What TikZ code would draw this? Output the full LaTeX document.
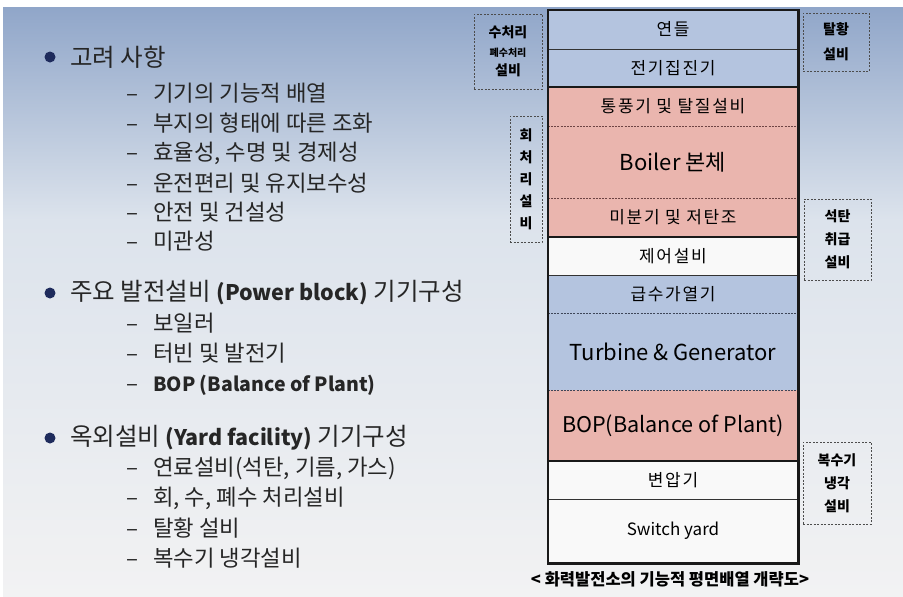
\documentclass[tikz,border=0pt]{standalone}
\usepackage{fontspec}
\setmainfont{Noto Sans CJK KR}
\newfontfamily\boxfont[LetterSpace=10]{Noto Sans CJK KR}
\definecolor{bluef}{HTML}{B4C4DF}
\definecolor{pinkf}{HTML}{EAB5AE}
\definecolor{whitef}{HTML}{F9F9F9}
\definecolor{txt}{HTML}{262626}
\definecolor{navy}{HTML}{1E2B5C}
\definecolor{bgtop}{HTML}{90A6C9}
\definecolor{bgmid}{HTML}{DCE3EC}
\definecolor{bgbot}{HTML}{F2F2F3}
\definecolor{dashred}{HTML}{6E4444}
\definecolor{dashblue}{HTML}{3E4658}
\begin{document}
\begin{tikzpicture}[x=1pt,y=-1pt,
  row/.style={rectangle, minimum width=250pt, inner sep=0pt, text=black, font=\boxfont\fontsize{17}{19}\selectfont},
  sidebox/.style={rectangle, draw=black!70, dash pattern=on 2pt off 1.5pt, line width=1pt, inner sep=0pt, align=center, text=black, font=\fontsize{14}{22}\selectfont\bfseries},
  headtxt/.style={anchor=west, inner sep=0pt, text=txt, font=\fontsize{24.5}{27}\selectfont},
  itemtxt/.style={anchor=west, inner sep=0pt, text=txt, font=\fontsize{22.3}{25}\selectfont},
  bul/.style={circle, fill=navy, inner sep=0pt, minimum size=11pt},
  sepline/.style={line width=1.3pt, draw=black!80},
  septhick/.style={line width=2.2pt, draw=black!90},
  sepdash/.style={line width=1pt, dash pattern=on 2pt off 1.2pt}
]
\useasboundingbox (0,0) rectangle (903,597);
% background
\fill[white] (0,0) rectangle (903,597);
\shade[top color=bgtop, bottom color=bgmid] (3,7) rectangle (903,220);
\shade[top color=bgmid, bottom color=bgbot] (3,220) rectangle (903,597);

% main column rows
\node[row, fill=bluef, minimum height=39pt] (yd) at (673,29.5) {연들};
\node[row, fill=bluef, minimum height=38pt] (jj) at (673,68) {전기집진기};
\node[row, fill=pinkf, minimum height=39pt] (tp) at (673,106.5) {통풍기 및 탈질설비};
\node[row, fill=pinkf, minimum height=72pt, font=\fontsize{22}{24}\selectfont] (bo) at (673,162) {Boiler 본체};
\node[row, fill=pinkf, minimum height=39pt] (mb) at (673,217.5) {미분기 및 저탄조};
\node[row, fill=whitef, minimum height=38pt] (je) at (673,256) {제어설비};
\node[row, fill=bluef, minimum height=38pt] (gs) at (673,294) {급수가열기};
\node[row, fill=bluef, minimum height=77pt, font=\fontsize{22}{24}\selectfont] (tg) at (673,351.5) {Turbine \& Generator};
\node[row, fill=pinkf, minimum height=71pt, font=\fontsize{21.6}{24}\selectfont] (bop) at (673,425.5) {BOP(Balance of Plant)};
\node[row, fill=whitef, minimum height=38pt] (bya) at (673,480) {변압기};
\node[row, fill=whitef, minimum height=64pt, font=\fontsize{17}{20}\selectfont] (sw) at (673,531) {Switch yard};

% separators
\draw[sepline] (yd.south west) -- (yd.south east);
\draw[septhick] (jj.south west) -- (jj.south east);
\draw[sepdash, draw=dashred] (tp.south west) -- (tp.south east);
\draw[sepdash, draw=dashred] (bo.south west) -- (bo.south east);
\draw[septhick] (mb.south west) -- (mb.south east);
\draw[sepline] (je.south west) -- (je.south east);
\draw[sepdash, draw=dashblue] (gs.south west) -- (gs.south east);
\draw[sepdash, draw=dashblue] (tg.south west) -- (tg.south east);
\draw[septhick] (bop.south west) -- (bop.south east);
\draw[sepline] (bya.south west) -- (bya.south east);
\draw[line width=2.6pt, draw=black!90] (yd.north west) rectangle (sw.south east);

% side dashed boxes
\node[sidebox, minimum width=68pt, minimum height=75pt] (sc) at (508,51.5)
  {수처리\\[-3pt]{\fontsize{10}{12}\selectfont 폐수처리}\\[-3pt]설비};
\node[sidebox, minimum width=32pt, minimum height=126pt] (hc) at (526,179)
  {회\\처\\리\\설\\비};
\node[sidebox, minimum width=66pt, minimum height=58pt, font=\fontsize{14}{25}\selectfont\bfseries] (th) at (836,42)
  {탈황\\설비};
\node[sidebox, minimum width=67pt, minimum height=81pt, font=\fontsize{14}{23}\selectfont\bfseries] (st) at (837.5,239.5)
  {석탄\\취급\\설비};
\node[sidebox, minimum width=68pt, minimum height=82pt, font=\fontsize{14}{23}\selectfont\bfseries] (bs) at (837,483)
  {복수기\\냉각\\설비};

% caption
\node[inner sep=0pt, font=\fontsize{16.5}{18}\selectfont\bfseries, text=black] (cap) at (670,579)
  {< 화력발전소의 기능적 평면배열 개략도>};

% left text
\node[bul] (b1) at (50,57) {};
\node[headtxt] (h1) at (70,57) {고려 사항};
\node[itemtxt] (i1) at (126,93) {\makebox[27pt][l]{–}기기의 기능적 배열};
\node[itemtxt] (i2) at (126,123) {\makebox[27pt][l]{–}부지의 형태에 따른 조화};
\node[itemtxt] (i3) at (126,153) {\makebox[27pt][l]{–}효율성, 수명 및 경제성};
\node[itemtxt] (i4) at (126,183) {\makebox[27pt][l]{–}운전편리 및 유지보수성};
\node[itemtxt] (i5) at (126,212) {\makebox[27pt][l]{–}안전 및 건설성};
\node[itemtxt] (i6) at (126,241) {\makebox[27pt][l]{–}미관성};

\node[bul] (b2) at (50,293) {};
\node[headtxt] (h2) at (70,293) {주요 발전설비 {\fontsize{21.5}{24}\selectfont\bfseries (Power block)} 기기구성};
\node[itemtxt] (i7) at (126,323) {\makebox[27pt][l]{–}보일러};
\node[itemtxt] (i8) at (126,353) {\makebox[27pt][l]{–}터빈 및 발전기};
\node[itemtxt] (i9) at (126,385) {\makebox[27pt][l]{–}{\fontsize{19.5}{24}\selectfont\bfseries BOP (Balance of Plant)}};

\node[bul] (b3) at (50,438) {};
\node[headtxt] (h3) at (70,438) {옥외설비 {\fontsize{21.5}{24}\selectfont\bfseries (Yard facility)} 기기구성};
\node[itemtxt] (i10) at (126,468) {\makebox[27pt][l]{–}연료설비(석탄, 기름, 가스)};
\node[itemtxt] (i11) at (126,498) {\makebox[27pt][l]{–}회, 수, 폐수 처리설비};
\node[itemtxt] (i12) at (126,528) {\makebox[27pt][l]{–}탈황 설비};
\node[itemtxt] (i13) at (126,558) {\makebox[27pt][l]{–}복수기 냉각설비};
\end{tikzpicture}
\end{document}
